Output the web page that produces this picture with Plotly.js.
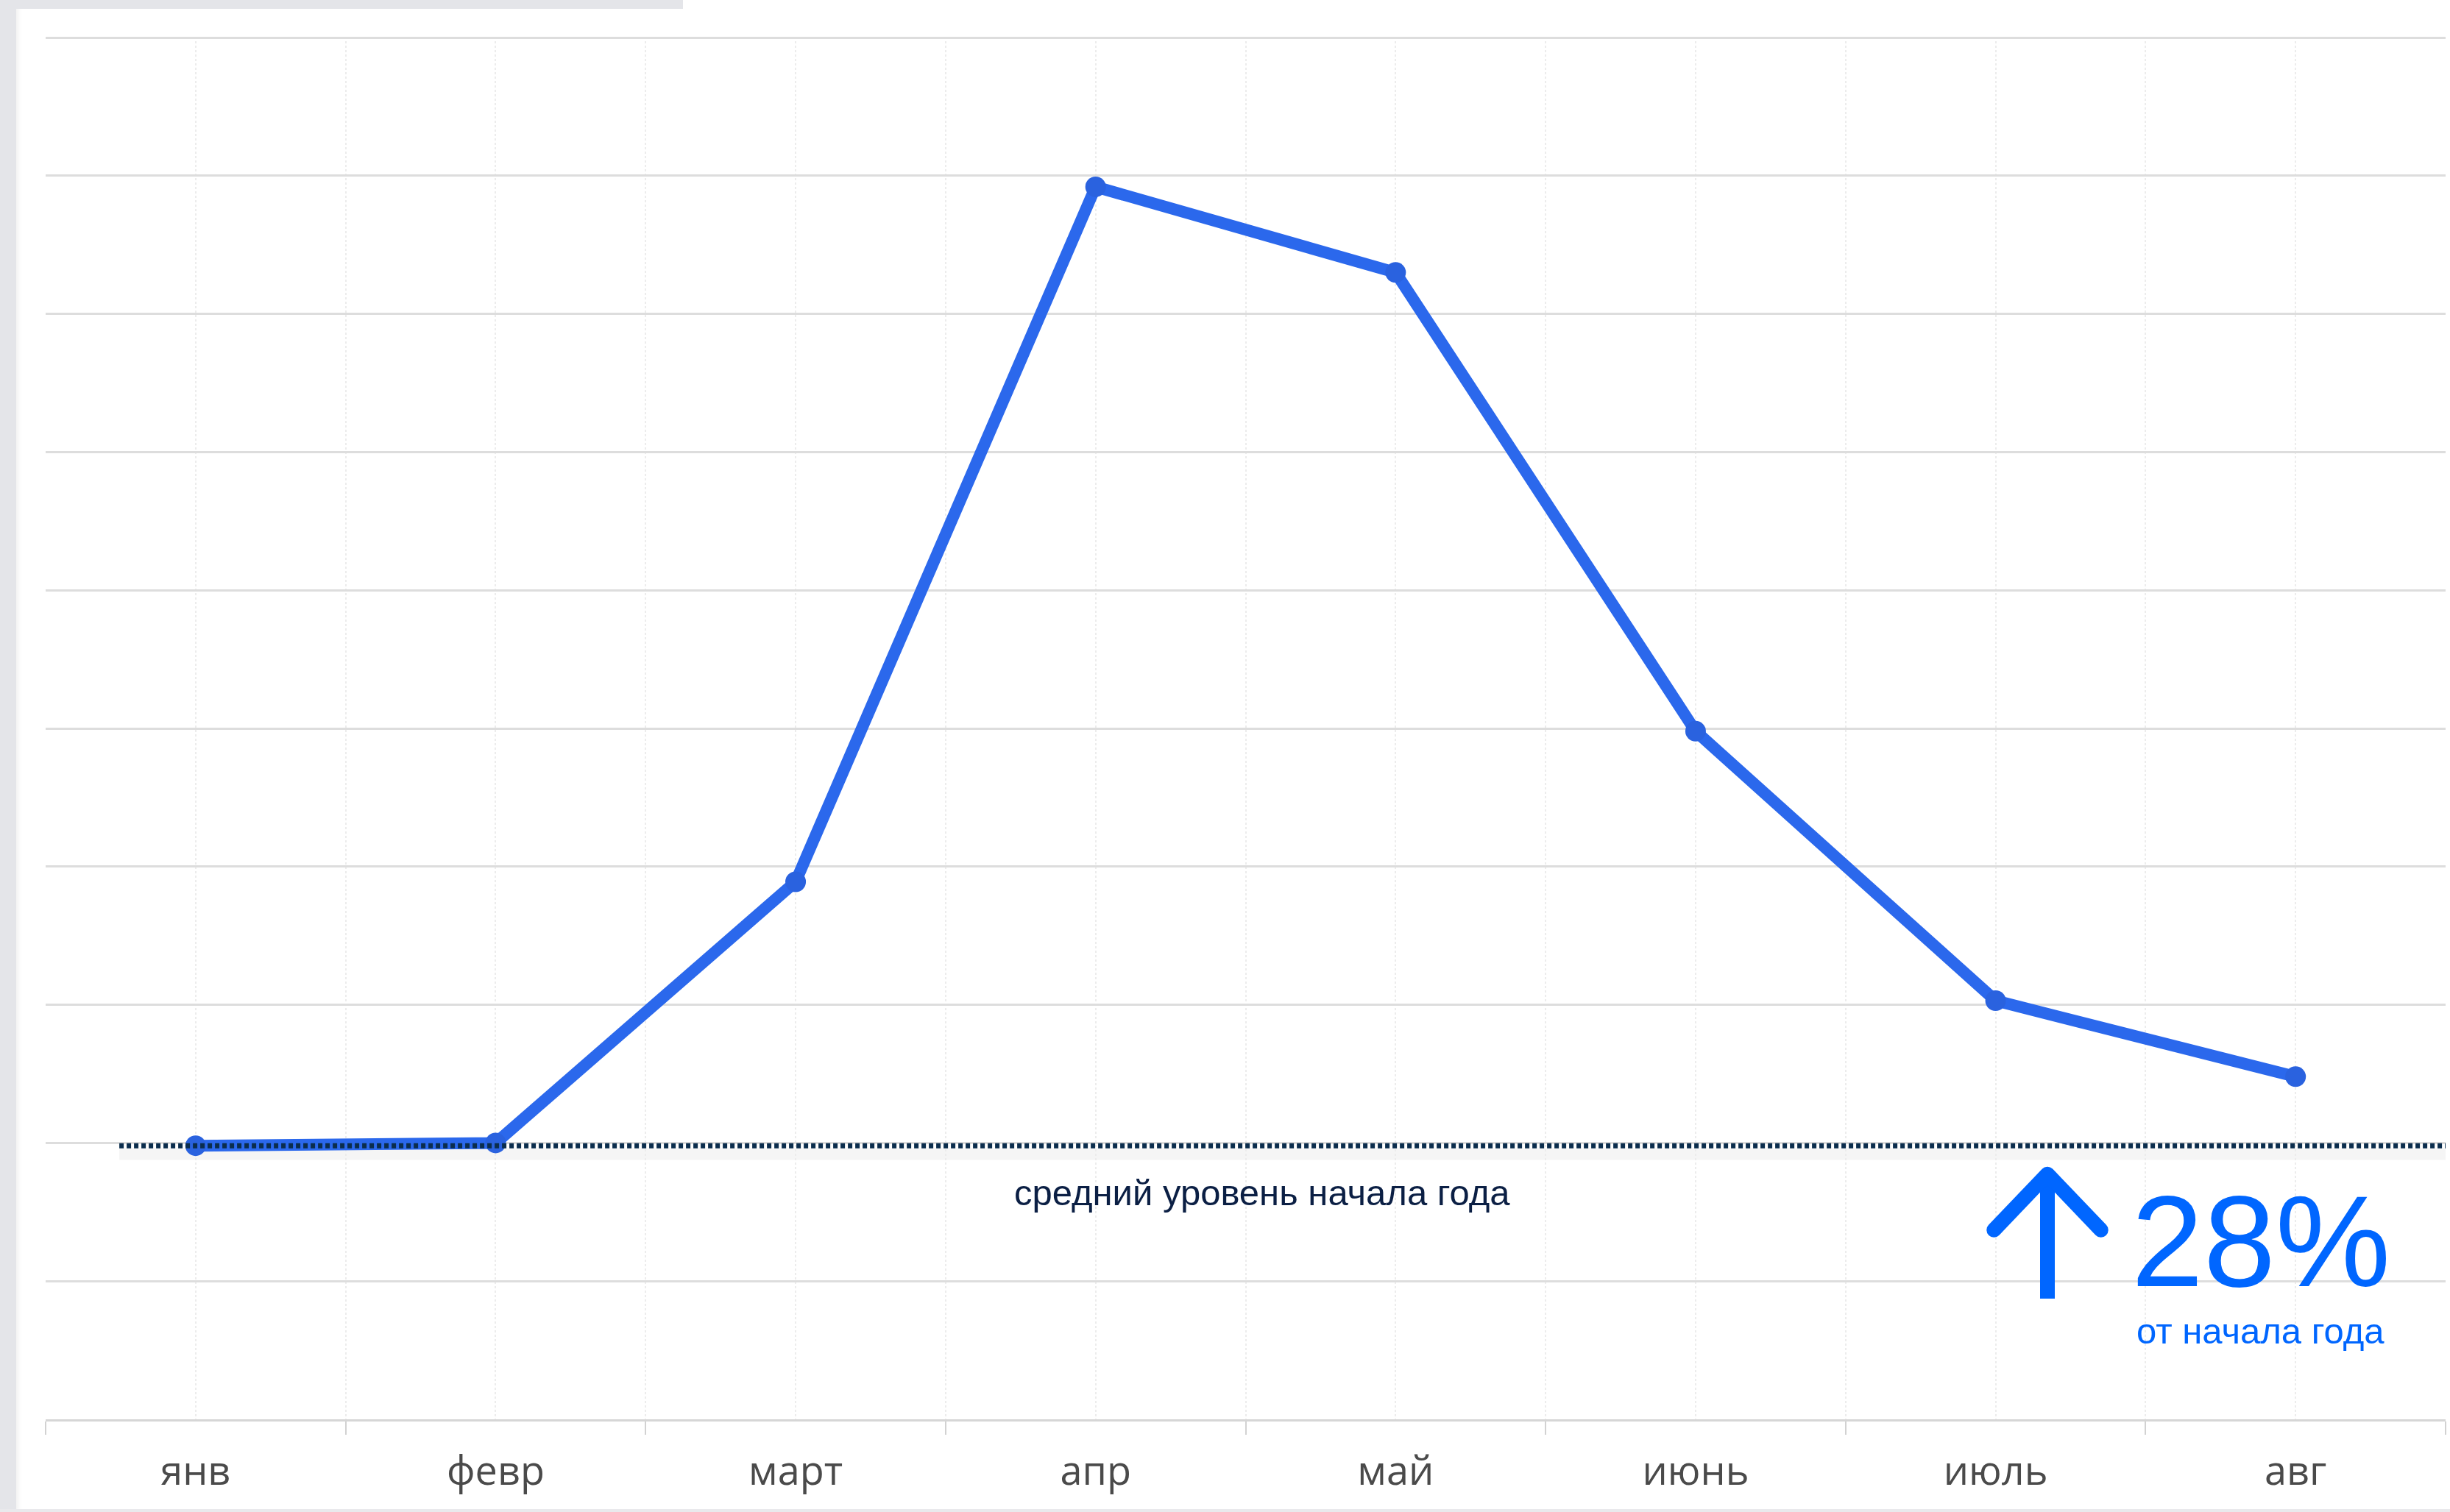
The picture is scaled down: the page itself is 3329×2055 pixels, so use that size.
<!DOCTYPE html>
<html>
<head>
<meta charset="utf-8">
<script src="https://cdn.plot.ly/plotly-3.0.1.min.js"></script>
<style>
  html, body { margin:0; padding:0; background:#ffffff; overflow:hidden; }
  #chart { position:absolute; left:0; top:0; width:3329px; height:2055px; }
  #leftstrip { position:absolute; left:0; top:0; width:22px; height:2055px; background:#e4e5e9; z-index:5;
    box-shadow: 3px 0 6px rgba(0,0,0,0.06); }
  #topbar { position:absolute; left:0; top:0; width:928px; height:12px; background:#e4e5e9; z-index:5; }
  #bottombar { position:absolute; left:0; top:2051px; width:3329px; height:4px; background:#e9e9ec; z-index:5; }
</style>
</head>
<body>
<div id="chart"></div>
<div id="leftstrip"></div>
<div id="topbar"></div>
<div id="bottombar"></div>
<script>
// ---- data ----
const months = ["янв", "февр", "март", "апр", "май", "июнь", "июль", "авг"];
const values = [1.98, 2.0, 3.89, 8.92, 8.30, 4.98, 3.03, 2.48];
const baselineLevel = 1.98;
const baselineLabel = "средний уровень начала года";
const changeText = "28%";
const changeSub = "от начала года";

const xIdx = months.map((_, i) => i);

const trace = {
  x: xIdx,
  y: values,
  type: "scatter",
  mode: "lines+markers",
  line: { color: "#2b68ec", width: 16 },
  marker: { color: "#2a62df", size: 28, line: { width: 0 } },
  hoverinfo: "skip",
  cliponaxis: false
};

const blue = "#0066ff";

const layout = {
  width: 3329,
  height: 2055,
  margin: { l: 62, r: 6, t: 50, b: 126, pad: 0 },
  paper_bgcolor: "#ffffff",
  plot_bgcolor: "#ffffff",
  showlegend: false,
  hovermode: false,
  xaxis: {
    range: [-0.5, 7.5],
    tickmode: "array",
    tickvals: xIdx,
    ticktext: months,
    ticks: "",
    showgrid: true,
    gridcolor: "#ececec",
    gridwidth: 2,
    griddash: "dot",
    showline: true,
    linecolor: "#d6d6d6",
    linewidth: 3,
    zeroline: false,
    ticklabelstandoff: 21,
    tickfont: { family: "Open Sans", size: 54, color: "#4a4a4a" },
    minor: {
      tick0: -0.5, dtick: 1,
      ticks: "outside", ticklen: 18, tickwidth: 2, tickcolor: "#d2d2d2",
      showgrid: true, gridcolor: "#ececec", gridwidth: 2, griddash: "dot"
    },
    fixedrange: true
  },
  yaxis: {
    range: [0, 10.006],
    tick0: 0,
    dtick: 1,
    showticklabels: false,
    ticks: "",
    showgrid: true,
    gridcolor: "#dddddd",
    gridwidth: 3,
    zeroline: false,
    showline: false,
    fixedrange: true
  },
  shapes: [
    { type: "line", xref: "paper", yref: "y", x0: 0.0307, x1: 1, y0: baselineLevel - 0.06, y1: baselineLevel - 0.06,
      line: { color: "rgba(120,120,120,0.07)", width: 16 }, layer: "below" },
    { type: "line", xref: "paper", yref: "y", x0: 0.0307, x1: 1, y0: baselineLevel, y1: baselineLevel,
      line: { color: "#0b2d4d", width: 7, dash: "6px,4px" }, layer: "above" },
    { type: "line", xref: "paper", yref: "y", x0: 0.8341, x1: 0.8341, y0: 0.873, y1: 1.76,
      line: { color: blue, width: 20 }, layer: "above" },
    { type: "path", xref: "paper", yref: "y",
      path: "M 0.8118 1.37 L 0.8341 1.775 L 0.8564 1.37",
      line: { color: blue, width: 20 }, layer: "above" }
  ],
  annotations: [
    { xref: "paper", yref: "y", x: 0.507, y: 1.64, text: baselineLabel, showarrow: false,
      xanchor: "center", yanchor: "middle",
      font: { family: "Liberation Sans, Arial, sans-serif", size: 49, color: "#0b1f44" } },
    { xref: "paper", yref: "y", x: 0.923, y: 1.29, text: changeText, showarrow: false,
      xanchor: "center", yanchor: "middle",
      font: { family: "Liberation Sans, Arial, sans-serif", size: 176, color: blue } },
    { xref: "paper", yref: "y", x: 0.923, y: 0.64, text: changeSub, showarrow: false,
      xanchor: "center", yanchor: "middle",
      font: { family: "Liberation Sans, Arial, sans-serif", size: 49, color: blue } }
  ]
};

Plotly.newPlot("chart", [trace], layout, { displayModeBar: false, staticPlot: true }).then(function (gd) {
  const paths = gd.querySelectorAll(".shapelayer path");
  paths.forEach(function (p, i) {
    if (i === paths.length - 1) {
      p.style.strokeLinecap = "round";
      p.style.strokeLinejoin = "round";
    }
  });
});
</script>
</body>
</html>
